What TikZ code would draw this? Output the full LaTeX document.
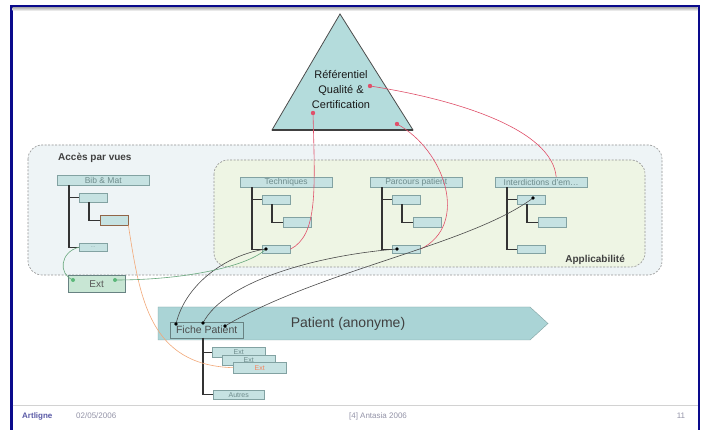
\documentclass[tikz,border=0pt]{standalone}
\usepackage{fontspec}
\setmainfont{Liberation Sans}
\usetikzlibrary{calc}

\definecolor{framblue}{HTML}{0A0A8C}
\definecolor{trifill}{HTML}{B4DCDC}
\definecolor{patfill}{HTML}{AAD4D6}
\definecolor{boxfill}{HTML}{C6E2E2}
\definecolor{boxline}{HTML}{82A2A2}
\definecolor{boxtext}{HTML}{6E8C8C}
\definecolor{vuesfill}{HTML}{EEF4F6}
\definecolor{applifill}{HTML}{EEF5E4}
\definecolor{extfill}{HTML}{C8E6D4}
\definecolor{refred}{HTML}{E0506A}
\definecolor{extorange}{HTML}{F2A878}
\definecolor{extgreen}{HTML}{5CB87A}
\definecolor{linkgray}{HTML}{4A4A4A}
\definecolor{footgray}{HTML}{9494A8}

\tikzset{
  leaf/.style={draw=boxline, fill=boxfill, inner sep=0pt, anchor=north west,
    minimum width=28pt, minimum height=9pt, text=boxtext,
    font=\fontsize{6}{6}\selectfont},
  head/.style={leaf, minimum width=92pt, minimum height=10pt,
    font=\fontsize{8.5}{8.5}\selectfont},
  branch/.style={draw=black!80, line width=1.2pt},
  zone/.style={draw=gray!85, dash pattern=on 2pt off 1.5pt, line width=0.6pt,
    rounded corners=14pt},
  redlink/.style={draw=refred, line width=0.6pt},
  darklink/.style={draw=linkgray, line width=0.6pt},
  orangelink/.style={draw=extorange, line width=0.6pt},
  greenlink/.style={draw=extgreen!70!gray, line width=0.6pt},
  foot/.style={text=footgray, font=\fontsize{8}{8}\selectfont, inner sep=0pt}
}

\begin{document}
\begin{tikzpicture}[x=1pt,y=-1pt]
\useasboundingbox (0,0) rectangle (707,430);
\fill[white] (0,0) rectangle (707,430);

% slide frame
\fill[framblue] (10,5) rectangle (700,7.5);
\fill[framblue] (10,5) rectangle (12.5,430);
\fill[framblue] (697.5,5) rectangle (700,430);
\shade[top color=gray!60, bottom color=white] (12.5,7.5) rectangle (697.5,11);
\draw[gray!35, line width=1pt] (12.5,405) -- (697.5,405);

% referentiel
\draw[fill=trifill, draw=black!70, line width=0.8pt] (272,130) -- (340,14) -- (413,130) -- cycle;
\draw[black!75, line width=1.6pt] (272,130) -- (413,130);
\node[align=center, text=black!90, font=\fontsize{11}{15}\selectfont, inner sep=0pt] (ref) at (341,90) {Référentiel\\Qualité \&\\Certification};

% zones
\draw[zone, fill=vuesfill] (28,145) rectangle (662,275);
\draw[zone, fill=applifill] (214,160) rectangle (645,267);
\node[anchor=west, inner sep=0pt, text=black!75, font=\bfseries\fontsize{10}{10}\selectfont] (vues) at (58,158) {Accès par vues};
\node[anchor=east, inner sep=0pt, text=black!75, font=\bfseries\fontsize{10}{10}\selectfont] (appli) at (625,260) {Applicabilité};

% trees
\foreach \nm/\x/\y/\txt in {a/57/175/Bib \& Mat, t/240/177/Techniques, p/370/177/Parcours patient, i/495/177/Interdictions d'em\ldots}{
  \node[head] (\nm0) at (\x,\y) {\txt};
  \node[leaf] (\nm1) at (\x+22,\y+18) {};
  \node[leaf, minimum height=10pt] (\nm2) at (\x+43,\y+40) {};
  \node[leaf, minimum height=8pt] (\nm3) at (\x+22,\y+68) {};
  \draw[branch] (\nm0.south west) ++(12,0) |- (\nm1.west);
  \draw[branch] (\nm0.south west) ++(12,0) |- (\nm3.west);
  \draw[branch] (\nm1.south west) ++(10,0) |- (\nm2.west);
}
\draw[extorange!60!black, line width=0.6pt] (a2.north west) rectangle (a2.south east);
\node[text=boxtext, font=\fontsize{5}{5}\selectfont, inner sep=0pt] (a3txt) at (a3.center) {\ldots};

\node[draw=boxline!80!black, fill=extfill, inner sep=0pt, anchor=north west, minimum width=57pt, minimum height=17pt, text=black!65, font=\fontsize{10}{10}\selectfont] (ext) at (68,275) {Ext};

% patient
\draw[fill=patfill, draw=boxline] (158,307) -- (530,307) -- (548,323.5) -- (530,340) -- (158,340) -- cycle;
\node[text=black!75, font=\fontsize{14}{14}\selectfont, inner sep=0pt] (pat) at (348,324) {Patient (anonyme)};
\node[draw=boxline!80!black, fill=patfill, inner sep=0pt, anchor=north west, minimum width=73pt, minimum height=16pt, text=black!70, font=\fontsize{10.5}{10.5}\selectfont] (fiche) at (170,322) {Fiche Patient};

\node[leaf, minimum width=53pt, minimum height=10pt, font=\fontsize{7}{7}\selectfont] (e1) at (212,347) {Ext};
\node[leaf, minimum width=53pt, minimum height=10pt, font=\fontsize{7}{7}\selectfont] (e2) at (222,355) {Ext};
\node[leaf, minimum width=53pt, minimum height=11pt, font=\fontsize{7}{7}\selectfont, text=extorange!80!red] (e3) at (233,362) {Ext};
\node[leaf, minimum width=51pt, minimum height=9pt, font=\fontsize{7}{7}\selectfont] (autres) at (213,390) {Autres};
\draw[branch] (203,338) |- (e1.west);
\draw[branch] (203,338) |- (autres.west);

% dots
\coordinate (r1) at (370,86);
\coordinate (r2) at (313,113);
\coordinate (r3) at (397,124);
\coordinate (f1) at (176,324);
\coordinate (f2) at (203,323);
\coordinate (f3) at (225,326);
\coordinate (td) at (266,249);
\coordinate (pd) at (397,249);
\coordinate (id) at (533,198);
\coordinate (xd1) at (73,280);
\coordinate (xd2) at (115,280);

% links
\draw[redlink] (r1) .. controls (460,100) and (552,130) .. ($(i0.north)+(15,0)$);
\draw[redlink] (r2) .. controls (315,190) and (318,235) .. (t3.east);
\draw[redlink] (r3) .. controls (445,150) and (470,225) .. (p3.east);
\draw[darklink] (f1) .. controls (185,285) and (225,255) .. (td);
\draw[darklink] (f2) .. controls (225,280) and (320,255) .. (pd);
\draw[darklink] (f3) .. controls (320,270) and (470,245) .. (id);
\draw[orangelink] (a2.south east) .. controls (140,300) and (150,365) .. (e3.west);
\draw[greenlink] (xd1) .. controls (58,274) and (60,252) .. (a3.west);
\draw[greenlink] (xd2) .. controls (190,280) and (250,265) .. (td);

\foreach \p in {f1,f2,f3,td,pd,id} \fill[black] (\p) circle (1.8pt);
\foreach \p in {r1,r2,r3} \fill[refred] (\p) circle (2.2pt);
\foreach \p in {xd1,xd2} \fill[extgreen] (\p) circle (2pt);

% footer
\node[foot, anchor=west, text=blue!30!gray, font=\bfseries\fontsize{8}{8}\selectfont] (logo) at (22,416) {Artligne};
\node[foot, anchor=west] (date) at (76,416) {02/05/2006};
\node[foot] (src) at (378,416) {[4] Antasia 2006};
\node[foot] (page) at (681,416) {11};
\end{tikzpicture}
\end{document}
